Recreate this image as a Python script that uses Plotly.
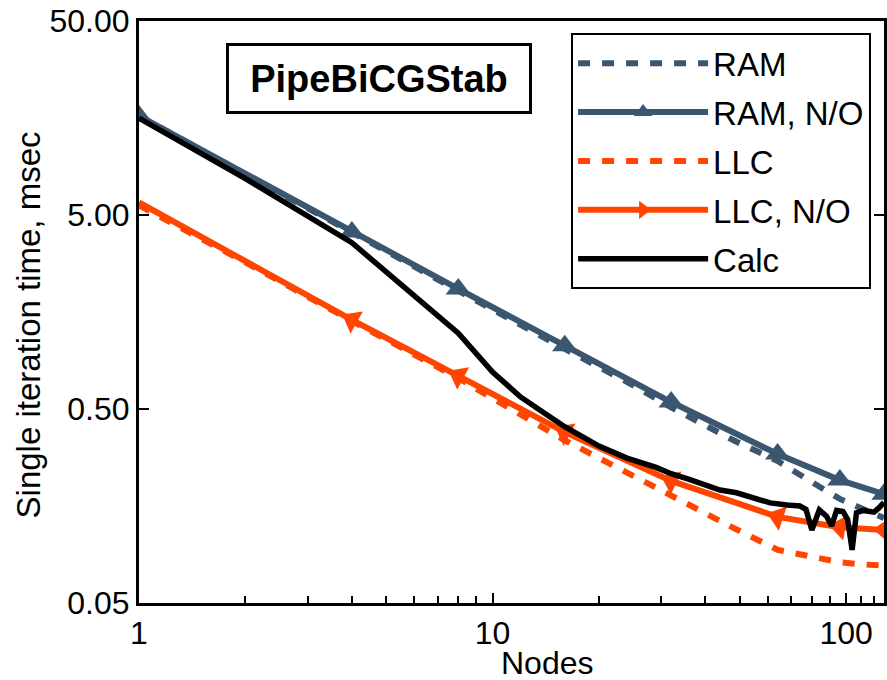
import plotly.graph_objects as go

# ---- data ----
nodes_pow = [1, 4, 8, 16, 32, 64, 96, 128]
ram_no = [16.2, 4.09, 2.08, 1.06, 0.543, 0.293, 0.215, 0.182]
llc_no = [5.8, 1.44, 0.74, 0.38, 0.213, 0.139, 0.123, 0.119]

nodes_dash = [1, 2, 4, 8, 16, 24, 32, 48, 64, 80, 96, 112, 128]
ram = [16.2, 8.1, 4.05, 2.02, 1.02, 0.69, 0.51, 0.345, 0.27, 0.21, 0.172, 0.152, 0.137]
llc = [5.6, 2.85, 1.42, 0.72, 0.345, 0.234, 0.18, 0.122, 0.094, 0.086, 0.081, 0.079, 0.078]

nodes_calc = [1, 2, 4, 8, 10, 12, 14, 15, 16, 20, 24, 29, 32, 36, 40, 44, 49, 55, 61, 68,
              74, 77, 80, 84, 88, 91, 94, 98, 101, 104, 107, 112, 120, 124, 128]
calc = [15.8, 7.7, 3.6, 1.23, 0.776, 0.577, 0.477, 0.44, 0.405, 0.322, 0.279, 0.25, 0.232,
        0.217, 0.203, 0.191, 0.185, 0.174, 0.164, 0.16, 0.158, 0.152, 0.119, 0.151, 0.14,
        0.125, 0.15, 0.148, 0.135, 0.094, 0.146, 0.15, 0.147, 0.155, 0.165]

y_ticks = [0.05, 0.5, 5, 50]
y_ticklabels = ["0.05", "0.50", "5.00", "50.00"]
x_ticks = [1, 10, 100]
x_ticklabels = ["1", "10", "100"]
x_minor = [2, 3, 4, 5, 6, 7, 8, 9, 20, 30, 40, 50, 60, 70, 80, 90, 110, 120]

BLUE = "#3B566F"
ORANGE = "#FF4500"
FONT = "Liberation Sans, Arial, sans-serif"

fig = go.Figure()
fig.add_trace(go.Scatter(x=nodes_dash, y=ram, mode="lines", name="RAM", legendgroup="a",
                         line=dict(color=BLUE, width=6, dash="12px,12px")))
fig.add_trace(go.Scatter(x=nodes_pow, y=ram_no, mode="lines+markers", name="RAM, N/O", legendgroup="b",
                         line=dict(color=BLUE, width=6),
                         marker=dict(symbol="triangle-up", size=22, color=BLUE)))
fig.add_trace(go.Scatter(x=nodes_dash, y=llc, mode="lines", name="LLC", legendgroup="c",
                         line=dict(color=ORANGE, width=6, dash="12px,12px")))
fig.add_trace(go.Scatter(x=nodes_pow, y=llc_no, mode="lines+markers", name="LLC, N/O", legendgroup="d",
                         line=dict(color=ORANGE, width=6),
                         marker=dict(symbol="triangle-up", size=22, color=ORANGE,
                                     angleref="previous", angle=180)))
fig.add_trace(go.Scatter(x=nodes_calc, y=calc, mode="lines", name="Calc", legendgroup="e",
                         line=dict(color="black", width=5.5)))

fig.update_layout(
    width=887, height=680,
    margin=dict(l=139, r=0, t=21, b=77),
    paper_bgcolor="white", plot_bgcolor="white",
    font=dict(family=FONT, size=32, color="black"),
    showlegend=True,
    legend=dict(x=0.58, y=0.979, xanchor="left", yanchor="top",
                bordercolor="black", borderwidth=2, bgcolor="white",
                traceorder="grouped", tracegroupgap=3, itemwidth=130,
                font=dict(family=FONT, size=33)),
    xaxis=dict(type="log", range=[0, 2.10721], showgrid=False, zeroline=False,
               showline=True, linecolor="black", linewidth=3, mirror=True,
               ticks="inside", ticklen=10, tickwidth=2, tickcolor="black",
               tickvals=x_ticks, ticktext=x_ticklabels,
               minor=dict(tickvals=x_minor, ticks="inside", ticklen=7, tickwidth=2, tickcolor="black"),
               tickfont=dict(family=FONT, size=32)),
    yaxis=dict(type="log", range=[-1.30103, 1.69897], showgrid=False, zeroline=False,
               showline=True, linecolor="black", linewidth=3, mirror="ticks",
               ticks="inside", ticklen=10, tickwidth=2, tickcolor="black",
               tickvals=y_ticks, ticktext=y_ticklabels,
               tickfont=dict(family=FONT, size=32)),
    annotations=[
        dict(text="<b>PipeBiCGStab</b>", xref="paper", yref="paper",
             x=(380 - 139) / 748, y=1 - (78 - 21) / 582, xanchor="center", yanchor="middle",
             showarrow=False, font=dict(family=FONT, size=38, color="black"),
             width=300, height=65, borderpad=0,
             bordercolor="black", borderwidth=3, bgcolor="white"),
        dict(text="Nodes", xref="paper", yref="paper",
             x=(549 - 139) / 748, y=-(663 - 603) / 582, xanchor="center", yanchor="middle",
             showarrow=False, font=dict(family=FONT, size=32)),
        dict(text="Single iteration time, msec", xref="paper", yref="paper", textangle=-90,
             x=-(139 - 28) / 748, y=1 - (325 - 21) / 582, xanchor="center", yanchor="middle",
             showarrow=False, font=dict(family=FONT, size=33)),
    ],
)

fig.write_html("out.html")
